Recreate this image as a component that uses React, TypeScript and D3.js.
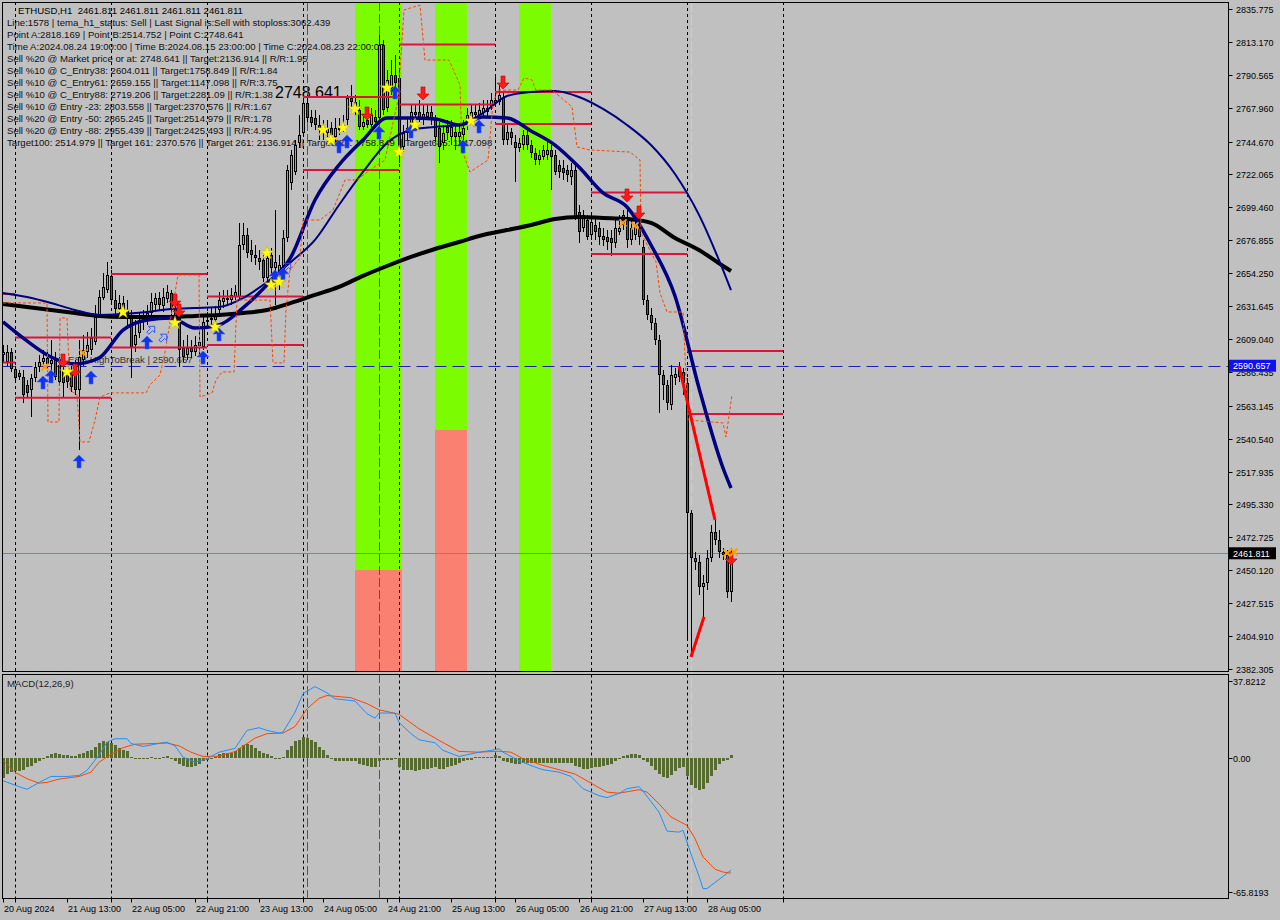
import React from "react";
import * as d3 from "d3";

// ---------------- DATA ----------------
// [open, high, low, close] per H1 bar, bar 0 = 20 Aug 2024 21:00
const candles: [number, number, number, number][] = [
  [2598.1, 2604.9, 2593.2, 2600.1], [2593.2, 2604.9, 2590.5, 2600.1], [2600.1, 2602.9, 2586.4, 2588.4], [2588.4, 2590.5, 2578.8, 2582.3],
  [2585.7, 2587.7, 2580.9, 2583.0], [2583.0, 2587.7, 2565.1, 2570.6], [2577.4, 2580.9, 2568.5, 2571.9], [2574.0, 2585.0, 2555.4, 2582.3],
  [2582.3, 2593.2, 2579.5, 2589.8], [2589.8, 2598.1, 2586.4, 2593.2], [2593.2, 2601.5, 2589.1, 2596.0], [2596.0, 2600.1, 2586.4, 2591.9],
  [2591.9, 2608.4, 2587.7, 2594.6], [2594.6, 2600.1, 2580.9, 2583.0], [2591.2, 2596.7, 2576.8, 2579.5], [2587.7, 2593.2, 2568.5, 2578.8],
  [2584.3, 2589.1, 2575.4, 2579.5], [2585.7, 2590.5, 2572.6, 2576.1], [2586.4, 2594.6, 2570.6, 2574.0], [2574.0, 2608.4, 2532.8, 2596.7],
  [2594.6, 2611.8, 2590.5, 2601.5], [2600.1, 2613.9, 2596.0, 2604.9], [2601.5, 2616.6, 2598.1, 2609.8], [2607.0, 2632.4, 2604.9, 2624.2],
  [2625.6, 2642.7, 2623.5, 2637.9], [2637.2, 2654.4, 2635.8, 2644.8], [2642.7, 2662.0, 2640.7, 2653.0], [2652.4, 2656.5, 2632.4, 2635.8],
  [2635.8, 2642.7, 2625.6, 2629.7], [2629.7, 2639.3, 2625.6, 2633.8], [2633.8, 2638.6, 2623.5, 2629.0], [2629.0, 2635.8, 2618.7, 2624.2],
  [2624.2, 2629.0, 2582.3, 2603.6], [2604.9, 2622.1, 2600.1, 2611.8], [2613.2, 2627.6, 2609.8, 2622.1], [2620.8, 2629.0, 2615.2, 2623.5],
  [2622.1, 2632.4, 2618.7, 2626.9], [2626.9, 2640.7, 2624.9, 2634.5], [2632.4, 2640.7, 2629.0, 2637.2], [2637.2, 2641.4, 2629.0, 2632.4],
  [2631.7, 2644.1, 2627.6, 2637.9], [2636.5, 2646.2, 2633.8, 2641.4], [2640.7, 2642.7, 2625.6, 2629.0], [2630.4, 2635.8, 2618.7, 2622.1],
  [2623.5, 2627.6, 2589.8, 2601.5], [2602.9, 2608.4, 2593.2, 2596.7], [2598.1, 2611.8, 2594.6, 2602.9], [2602.9, 2608.4, 2596.0, 2600.1],
  [2600.1, 2611.2, 2597.4, 2604.9], [2604.2, 2615.2, 2598.1, 2607.0], [2603.6, 2624.9, 2601.5, 2620.8], [2620.8, 2627.6, 2616.6, 2622.1],
  [2622.1, 2630.4, 2618.7, 2623.5], [2622.1, 2631.7, 2618.7, 2625.6], [2629.0, 2641.4, 2626.3, 2635.8], [2634.5, 2642.7, 2630.4, 2637.2],
  [2637.2, 2642.7, 2631.7, 2635.8], [2635.8, 2644.1, 2632.4, 2639.3], [2637.9, 2646.2, 2635.8, 2641.4], [2637.9, 2688.8, 2635.8, 2673.6],
  [2673.6, 2688.8, 2670.2, 2680.5], [2680.5, 2685.3, 2664.7, 2668.2], [2670.2, 2677.1, 2662.0, 2666.8], [2666.8, 2673.6, 2659.9, 2664.7],
  [2664.7, 2670.2, 2656.5, 2662.0], [2663.3, 2666.8, 2648.3, 2651.0], [2651.0, 2670.2, 2648.3, 2664.7], [2666.8, 2671.6, 2653.1, 2657.9],
  [2657.9, 2697.7, 2632.4, 2662.0], [2653.1, 2666.8, 2642.7, 2659.9], [2651.7, 2683.9, 2649.6, 2678.4], [2678.4, 2728.6, 2675.7, 2725.2],
  [2716.2, 2738.9, 2711.4, 2735.5], [2723.8, 2745.8, 2721.7, 2742.3], [2743.7, 2763.0, 2740.3, 2749.2], [2750.6, 2776.7, 2748.5, 2771.2],
  [2771.2, 2776.7, 2758.2, 2760.9], [2761.6, 2766.4, 2754.7, 2757.5], [2760.9, 2766.4, 2752.6, 2756.1], [2756.1, 2763.0, 2745.8, 2752.6],
  [2752.6, 2759.5, 2745.8, 2750.6], [2750.6, 2759.5, 2747.8, 2754.1], [2754.1, 2758.2, 2745.8, 2749.2], [2747.8, 2760.9, 2744.4, 2754.1],
  [2754.1, 2760.9, 2749.2, 2752.6], [2752.6, 2763.0, 2751.2, 2756.1], [2759.5, 2776.7, 2756.1, 2774.6], [2774.6, 2783.6, 2767.8, 2771.9],
  [2771.9, 2776.7, 2763.0, 2766.4], [2766.4, 2773.3, 2752.6, 2754.7], [2754.7, 2763.0, 2752.6, 2758.2], [2759.5, 2765.0, 2754.0, 2756.1],
  [2756.1, 2767.8, 2754.0, 2763.0], [2761.6, 2766.4, 2755.4, 2758.2], [2760.9, 2818.2, 2758.2, 2811.1], [2811.1, 2814.5, 2763.0, 2766.4],
  [2767.8, 2793.9, 2765.0, 2787.0], [2781.5, 2800.7, 2776.7, 2790.4], [2790.4, 2804.2, 2780.1, 2785.0], [2788.4, 2793.9, 2730.0, 2736.9],
  [2741.0, 2756.1, 2737.5, 2750.6], [2750.6, 2760.9, 2745.8, 2754.1], [2754.1, 2769.8, 2751.3, 2765.0], [2765.0, 2769.8, 2758.2, 2763.0],
  [2765.0, 2773.3, 2758.2, 2760.9], [2760.9, 2769.8, 2756.1, 2763.7], [2761.6, 2769.8, 2759.5, 2765.0], [2765.0, 2769.1, 2756.1, 2759.5],
  [2759.5, 2763.0, 2744.4, 2747.8], [2754.1, 2758.2, 2730.0, 2741.0], [2743.7, 2756.1, 2738.9, 2750.6], [2754.7, 2759.5, 2745.8, 2750.6],
  [2747.8, 2759.5, 2742.3, 2754.7], [2751.3, 2756.1, 2738.9, 2747.8], [2747.8, 2756.1, 2742.3, 2751.3], [2749.2, 2759.5, 2745.8, 2754.1],
  [2756.1, 2767.8, 2752.6, 2763.0], [2759.5, 2769.8, 2756.8, 2765.0], [2765.0, 2769.8, 2759.5, 2763.0], [2763.0, 2771.2, 2760.9, 2766.4],
  [2764.3, 2773.3, 2762.3, 2767.8], [2765.0, 2773.3, 2762.3, 2767.8], [2767.8, 2778.1, 2766.4, 2773.3], [2773.3, 2789.1, 2769.1, 2771.2],
  [2771.9, 2783.6, 2769.8, 2776.7], [2774.6, 2778.8, 2742.3, 2745.8], [2745.8, 2756.1, 2742.3, 2751.3], [2751.3, 2754.0, 2742.3, 2747.1],
  [2744.4, 2749.2, 2716.9, 2740.3], [2740.3, 2747.1, 2737.5, 2743.7], [2742.3, 2752.6, 2738.9, 2749.2], [2749.2, 2752.6, 2738.9, 2742.3],
  [2742.3, 2745.8, 2733.4, 2736.9], [2736.9, 2740.3, 2728.6, 2732.0], [2732.0, 2738.9, 2728.6, 2735.5], [2734.1, 2742.3, 2732.0, 2738.9],
  [2735.5, 2745.8, 2732.0, 2738.9], [2738.9, 2742.3, 2711.4, 2734.1], [2735.5, 2738.9, 2721.7, 2723.8], [2728.6, 2732.0, 2719.7, 2723.8],
  [2726.5, 2732.0, 2718.3, 2723.1], [2725.2, 2728.6, 2716.9, 2721.7], [2720.4, 2730.0, 2714.9, 2725.2], [2725.2, 2730.0, 2690.8, 2692.9],
  [2696.3, 2701.1, 2675.0, 2682.6], [2685.3, 2697.7, 2682.6, 2694.3], [2690.8, 2694.3, 2677.1, 2679.1], [2680.5, 2694.3, 2677.1, 2689.5],
  [2687.4, 2692.2, 2677.1, 2682.6], [2685.3, 2689.5, 2673.6, 2679.1], [2679.8, 2685.3, 2673.0, 2677.1], [2679.1, 2683.9, 2670.2, 2675.7],
  [2678.4, 2683.9, 2666.1, 2675.0], [2675.0, 2690.8, 2671.6, 2685.3], [2682.6, 2694.3, 2680.5, 2685.3], [2687.4, 2697.7, 2683.9, 2694.3],
  [2692.9, 2697.7, 2671.6, 2677.1], [2677.1, 2690.8, 2673.6, 2685.3], [2680.5, 2694.3, 2677.1, 2687.4], [2685.3, 2689.5, 2673.6, 2679.1],
  [2672.3, 2677.1, 2632.4, 2635.8], [2635.8, 2639.3, 2622.1, 2625.6], [2625.6, 2630.4, 2615.2, 2620.1], [2620.1, 2623.5, 2604.9, 2608.4],
  [2608.4, 2611.8, 2558.2, 2584.3], [2584.3, 2587.7, 2567.1, 2577.4], [2577.4, 2580.9, 2560.3, 2565.1], [2563.7, 2591.2, 2560.3, 2584.3],
  [2582.3, 2589.1, 2577.4, 2585.0], [2589.8, 2593.2, 2579.5, 2583.0], [2586.4, 2589.1, 2570.6, 2578.8], [2578.8, 2582.3, 2402.2, 2489.5],
  [2489.5, 2491.6, 2390.6, 2458.6], [2458.6, 2462.8, 2450.3, 2455.9], [2455.9, 2460.7, 2433.2, 2438.7], [2438.7, 2447.0, 2418.1, 2441.5],
  [2441.5, 2464.1, 2436.6, 2458.6], [2458.6, 2481.3, 2455.9, 2476.5], [2476.5, 2484.7, 2467.5, 2470.9], [2470.9, 2477.8, 2458.6, 2462.7],
  [2462.7, 2465.5, 2457.2, 2460.7], [2460.7, 2464.1, 2431.1, 2435.2], [2435.2, 2465.5, 2428.4, 2461.811],
];

const priceTicks = [2835.775, 2813.17, 2790.565, 2767.96, 2744.67, 2722.065, 2699.46, 2676.855, 2654.25, 2631.645, 2609.04,
  2586.435, 2563.145, 2540.54, 2517.935, 2495.33, 2472.725, 2450.12, 2427.515, 2404.91, 2382.305];
const macdTicks = [37.8212, 0, -65.8193];
const macdTickLabels = ["37.8212", "0.00", "-65.8193"];

const timeLabels = ["20 Aug 2024", "21 Aug 13:00", "22 Aug 05:00", "22 Aug 21:00", "23 Aug 13:00", "24 Aug 05:00",
  "24 Aug 21:00", "25 Aug 13:00", "26 Aug 05:00", "26 Aug 21:00", "27 Aug 13:00", "28 Aug 05:00"];
const timeLabelBars = [0, 16, 32, 48, 64, 80, 96, 112, 128, 144, 160, 176];
const daySeparatorBars = [3, 27, 51, 75, 99, 123, 147, 171, 195];
const magentaBars = [76, 94];
const lightBlueBars = [172];

const breakLevel = 2590.657;
const lastPrice = 2461.811;

// moving averages (sampled)
const maBars = [0, 6, 12, 18, 24, 30, 36, 42, 48, 54, 60, 66, 72, 78, 84, 90, 96, 102, 108, 114, 120, 126, 132, 138, 144, 150, 156, 162, 168, 174, 180, 182];
const maSlowBlack = [2633.1, 2631.0, 2629.0, 2626.9, 2624.9, 2624.2, 2624.2, 2624.2, 2624.9, 2625.6, 2626.9, 2629.0, 2633.8, 2639.3, 2644.8, 2652.4,
  2659.2, 2665.4, 2670.9, 2675.7, 2680.5, 2683.9, 2687.4, 2691.5, 2692.9, 2692.2, 2691.5, 2688.8, 2678.4, 2670.2, 2659.2, 2655.8];
const maFastNavy = [2620.8, 2607.7, 2596.7, 2591.9, 2596.0, 2615.2, 2622.1, 2623.5, 2616.6, 2618.7, 2630.4, 2646.2, 2665.4, 2704.5, 2728.6, 2745.8,
  2760.9, 2760.9, 2760.2, 2756.1, 2761.6, 2760.9, 2752.0, 2742.3, 2727.2, 2709.4, 2699.7, 2673.6, 2638.6, 2575.4, 2520.4, 2506.7];
const maMidNavy = [2640.7, 2637.9, 2633.8, 2629.0, 2625.6, 2626.3, 2627.6, 2629.7, 2630.4, 2631.0, 2637.2, 2648.2, 2662.0, 2677.1, 2701.1, 2723.8,
  2743.7, 2752.6, 2754.7, 2756.1, 2764.3, 2776.0, 2778.8, 2779.4, 2775.3, 2767.1, 2756.1, 2742.3, 2722.4, 2694.3, 2656.5, 2642.7];

// orange dashed trailing stop
const stopBars = [0, 11, 11.25, 14, 14.25, 16, 16.75, 18.5, 19.25, 21.5, 23, 24.25, 26.75, 35.75, 36.75, 39.25, 40.5, 43.75, 49, 49.25,
  52.25, 53.25, 54.75, 57.75, 58.5, 66.75, 67.5, 70.25, 70.75, 71.75, 74.25, 75, 79.25, 82.5, 85.5, 88.5, 91.75, 95.5, 98.75, 100.25,
  104.25, 105.5, 111.5, 114.25, 114.75, 116.75, 121.25, 122.5, 123.75, 128.75, 130.25, 132.25, 133.25, 137.25, 142.25, 143.5, 146.75, 156.75, 159.25, 159.5,
  163.25, 164.25, 166, 170, 171.25, 180, 180.75, 182.25];
const stopPrices = [2633.8, 2633.8, 2552.0, 2552.0, 2623.5, 2623.5, 2574.0, 2570.6, 2538.3, 2538.3, 2553.4, 2569.2, 2572.0, 2572.0, 2577.5, 2584.3, 2600.1, 2653.0, 2653.0, 2569.2,
  2572.0, 2580.9, 2586.4, 2586.4, 2635.8, 2635.8, 2592.6, 2592.6, 2629.0, 2656.5, 2664.7, 2690.8, 2690.8, 2697.7, 2718.3, 2718.3, 2725.2, 2732.0, 2773.3, 2835.1,
  2838.5, 2800.7, 2800.7, 2783.6, 2738.9, 2723.8, 2732.0, 2771.2, 2780.1, 2780.1, 2788.4, 2787.0, 2780.1, 2780.1, 2768.5, 2741.0, 2738.9, 2737.5, 2732.0, 2681.9,
  2662.0, 2640.7, 2627.6, 2627.6, 2553.4, 2551.4, 2541.7, 2570.6];

// shaded zones
const bandStart = [88, 108, 129];
const bandEnd = [99.75, 116, 137];
const bandSalmonTop: (number | null)[] = [2450.3, 2546.5, null];

// daily levels (crimson segments)
const levelStart = [0, 3, 27, 51, 75, 99, 123, 147, 171];
const levelEnd = [3, 27, 51, 75, 99, 123, 147, 171, 195];
const levelHigh = [2640.0, 2610.1, 2653.7, 2638.3, 2775.3, 2811.4, 2778.8, 2709.7, 2600.8];
const levelLow = [2592.9, 2568.7, 2603.2, 2604.9, 2725.2, 2770.2, 2756.8, 2667.5, 2557.5];

// red trend segments
const trendBars = [[169, 178], [172, 175.25]];
const trendPrices = [[2590.5, 2484.7], [2390.6, 2418.1]];

// signals
const upArrowBars = [10, 12, 19, 22, 36, 50, 54, 68, 70, 84, 86, 94, 98, 102, 115, 119];
const upArrowPrices = [2578.8, 2583.0, 2524.6, 2582.3, 2606.3, 2596.0, 2611.8, 2651.7, 2653.1, 2741.0, 2744.4, 2750.6, 2778.1, 2751.3, 2741.0, 2754.7];
const downArrowBars = [15, 18, 43, 44, 91, 105, 125, 156, 159, 182];
const downArrowPrices = [2594.6, 2587.7, 2635.8, 2629.0, 2764.3, 2778.1, 2785.6, 2708.0, 2696.3, 2458.6];
const starBars = [16, 30, 43, 53, 66, 67, 69, 80, 82, 85, 88, 96, 99, 103, 117];
const starPrices = [2586.4, 2627.6, 2620.1, 2617.3, 2668.1, 2646.2, 2648.2, 2752.6, 2745.8, 2754.0, 2767.1, 2781.5, 2737.5, 2756.1, 2758.8];
const crossBars = [10.5, 20, 155, 158, 181, 182.75];
const crossPrices = [2589.8, 2599.5, 2688.8, 2686.7, 2462.0, 2462.7];
const hollowBars = [37, 40, 71];
const hollowPrices = [2615.2, 2609.8, 2658.5];

// MACD
const macdHist = [
  -10.0, -7.6, -7.0, -6.1, -6.1, -5.6, -4.5, -3.7, -2.5, -1.2,
  -0.2, 1.1, 2.1, 2.4, 2.1, 1.7, 1.5, 1.1, 1.0, 2.1,
  2.6, 3.3, 4.1, 5.6, 7.2, 8.5, 8.0, 7.2, 6.6, 5.0,
  4.0, 3.3, 0.3, 0.0, -0.5, -0.3, 0.0, 0.3, 0.0, 0.2,
  0.7, 1.0, 0.0, -1.3, -2.9, -3.8, -4.2, -4.6, -3.9, -2.9,
  -1.6, -0.7, 0.0, 0.7, 2.0, 2.3, 2.6, 2.6, 3.6, 5.2,
  6.5, 6.9, 6.2, 4.9, 3.6, 2.3, 2.0, 1.0, -0.5, 0.0,
  0.7, 4.0, 6.0, 8.2, 8.9, 10.5, 9.8, 9.0, 7.7, 5.6,
  4.0, 1.7, 0.0, -1.3, -1.6, -1.6, -1.3, -1.3, -1.6, -2.9,
  -3.6, -3.9, -4.6, -4.6, -1.3, -1.0, -1.0, -0.7, -0.5, -4.6,
  -5.9, -5.6, -5.9, -6.2, -5.7, -5.4, -5.1, -4.9, -4.6, -5.1,
  -5.1, -4.6, -3.8, -3.3, -2.6, -1.6, -1.0, -0.7, 0.3, 0.5,
  0.5, 0.5, 0.5, 1.5, 1.1, -1.3, -2.0, -2.6, -2.9, -2.9,
  -2.6, -2.6, -2.3, -2.3, -2.4, -2.3, -2.2, -2.3, -2.4, -2.3,
  -2.2, -2.3, -2.3, -3.8, -4.6, -5.4, -5.4, -4.9, -4.6, -4.2,
  -3.8, -3.3, -2.9, -1.6, -0.2, 1.1, 1.6, 2.0, 2.0, 1.5,
  -1.0, -2.1, -3.8, -5.9, -7.8, -9.2, -10.0, -8.2, -6.2, -4.9,
  -4.2, -8.7, -13.1, -14.7, -15.7, -15.2, -12.4, -8.7, -5.9, -2.9,
  -1.3, -1.0, 1.6,
];
const macdMainBars = [0, 4, 6, 9, 12, 16, 19, 21, 24, 26, 28, 31, 32, 35, 39, 41, 43, 45, 48, 51, 54, 58, 61, 64, 66, 69, 70, 73, 75, 78,
  81, 83, 88, 91, 93, 94, 98, 99, 102, 104, 108, 110, 114, 119, 122, 124, 125, 129, 133, 135, 139, 142, 145, 149, 151, 154, 156, 159, 160, 164,
  166, 169, 170, 172, 174, 175, 176, 179, 181, 182];
const macdMain = [-11.1, -14.0, -15.3, -12.0, -9.0, -9.0, -8.5, -6.0, 1.5, 7.8, 9.5, 9.5, 7.2, 5.7, 7.2, 7.8, 6.0, 0.5, -2.0, -0.3,
  2.9, 4.8, 13.6, 14.9, 13.6, 12.3, 12.8, 22.5, 31.6, 35.1, 32.0, 29.1, 28.0, 21.8, 19.6, 22.1, 22.1, 17.5, 12.0, 9.0,
  7.5, 3.8, 0.8, 2.9, 3.8, 4.6, 2.9, -1.3, -4.4, -5.7, -6.9, -9.0, -15.0, -18.4, -19.4, -17.3, -15.0, -14.0, -16.2, -26.5,
  -35.8, -36.3, -35.4, -47.0, -58.0, -64.0, -64.0, -59.5, -56.5, -55.0];
const macdSignalBars = [0, 3, 6, 9, 11, 14, 19, 22, 24, 27, 30, 33, 41, 44, 47, 50, 54, 58, 63, 66, 70, 73, 76, 79, 81, 87, 91, 94, 99, 104,
  109, 114, 119, 124, 127, 130, 135, 143, 147, 151, 154, 159, 161, 164, 167, 171, 173, 175, 178, 180, 182];
const macdSignal = [-1.1, -7.0, -10.1, -12.3, -11.9, -10.3, -9.0, -6.9, -2.0, 1.8, 5.1, 6.8, 7.4, 6.0, 2.9, 0.8, 0.9, 3.2, 9.8, 12.0,
  12.3, 15.5, 24.2, 29.3, 30.7, 29.6, 26.7, 23.7, 21.5, 14.4, 8.7, 3.3, 2.9, 3.4, 2.9, -0.3, -3.6, -7.8, -12.3, -16.7,
  -17.2, -15.5, -16.7, -22.4, -28.9, -33.0, -39.5, -48.5, -54.5, -55.9, -56.4];

const infoLines = [
  "Line:1578 | tema_h1_status: Sell | Last Signal is:Sell with stoploss:3062.439",
  "Point A:2818.169 | Point B:2514.752 | Point C:2748.641",
  "Time A:2024.08.24 19:00:00 | Time B:2024.08.15 23:00:00 | Time C:2024.08.23 22:00:00",
  "Sell %20 @ Market price or at: 2748.641 || Target:2136.914 || R/R:1.95",
  "Sell %10 @ C_Entry38: 2604.011 || Target:1758.849 || R/R:1.84",
  "Sell %10 @ C_Entry61: 2659.155 || Target:1147.098 || R/R:3.75",
  "Sell %10 @ C_Entry88: 2719.206 || Target:2281.09 || R/R:1.38",
  "Sell %10 @ Entry -23: 2803.558 || Target:2370.576 || R/R:1.67",
  "Sell %20 @ Entry -50: 2865.245 || Target:2514.979 || R/R:1.78",
  "Sell %20 @ Entry -88: 2955.439 || Target:2425.493 || R/R:4.95",
  "Target100: 2514.979 || Target 161: 2370.576 || Target 261: 2136.914 || Target423: 1758.849 || Target685: 1147.098",
];
const titleLine = "ETHUSD,H1  2461.811 2461.811 2461.811 2461.811";

// ---------------- CHART ----------------
const FONT = "'Liberation Sans', Arial, sans-serif";
const MAIN_TOP = 2, MAIN_BOT = 671.5, MACD_TOP = 674.5, MACD_BOT = 898.5, RIGHT = 1228.5, LEFT = 2.5;

const x = d3.scaleLinear().domain([0, 182]).range([3, 731]);
const y = d3.scaleLinear().domain([2382.305, 2835.775]).range([669, 9]);
const ym = d3.scaleLinear().domain([-65.8193, 37.8212]).range([892.3, 681]);

const upArrow = "M0,-7 L6,-1 L2,-1 L2,6 L-2,6 L-2,-1 L-6,-1 Z";
const downArrow = "M0,7 L6,1 L2,1 L2,-6 L-2,-6 L-2,1 L-6,1 Z";
const starPath = d3.symbol().type(d3.symbolStar).size(58)() || "";

export default function App() {
  const maLine = (vals: number[]) =>
    d3.line<number>().x((_, i) => x(maBars[i])).y((v) => y(v)).curve(d3.curveMonotoneX)(vals) || "";
  const stopLine = d3.line<number>().x((_, i) => x(stopBars[i])).y((v) => y(v))(stopPrices) || "";
  const mainLine = d3.line<number>().x((_, i) => x(macdMainBars[i])).y((v) => ym(v))(macdMain) || "";
  const sigLine = d3.line<number>().x((_, i) => x(macdSignalBars[i])).y((v) => ym(v))(macdSignal) || "";

  return (
    <>
      <style>{"body{margin:0;} svg{display:block;}"}</style>
      <svg width={1280} height={920} style={{ fontFamily: FONT }}>
        <rect x={0} y={0} width={1280} height={920} fill="#C0C0C0" />

        {/* zones */}
        {bandStart.map((s, k) => {
          const x0 = x(s), x1 = x(bandEnd[k]);
          const top = bandSalmonTop[k];
          const split = top === null ? MAIN_BOT : y(top);
          return (
            <g key={"band" + k}>
              <rect x={x0} y={MAIN_TOP + 1} width={x1 - x0} height={split - MAIN_TOP - 1} fill="#7CFC00" />
              {top !== null && <rect x={x0} y={split} width={x1 - x0} height={MAIN_BOT - split} fill="#FA8072" />}
            </g>
          );
        })}

        {/* info text */}
        <text x={18} y={14} fontSize={9.6} fill="#000" style={{ whiteSpace: "pre" }}>{titleLine}</text>
        {infoLines.map((t, k) => (
          <text key={"info" + k} x={7} y={26 + k * 12} fontSize={9.6} fill="#111" style={{ whiteSpace: "pre" }}>{t}</text>
        ))}
        <text x={x(68)} y={y(2774.6)} fontSize={16} fill="#000">2748.641</text>
        <text x={x(16.25)} y={y(breakLevel) - 2.5} fontSize={9.6} fill="#333">ESB HighToBreak | 2590.657</text>

        {/* separators */}
        {daySeparatorBars.map((b) => (
          <g key={"sep" + b}>
            <line x1={x(b) + 0.5} x2={x(b) + 0.5} y1={MAIN_TOP} y2={MAIN_BOT} stroke="#000" strokeDasharray="3,3" />
            <line x1={x(b) + 0.5} x2={x(b) + 0.5} y1={MACD_TOP} y2={MACD_BOT} stroke="#000" strokeDasharray="3,3" />
          </g>
        ))}
        {magentaBars.map((b) => (
          <line key={"mg" + b} x1={x(b) + 0.5} x2={x(b) + 0.5} y1={MAIN_TOP} y2={MACD_BOT} stroke="#C71585" strokeDasharray="9,3" />
        ))}
        {lightBlueBars.map((b) => (
          <line key={"lb" + b} x1={x(b) + 0.5} x2={x(b) + 0.5} y1={MAIN_TOP} y2={MACD_BOT} stroke="#ADD8E6" strokeDasharray="10,3" />
        ))}

        {/* horizontal reference lines */}
        <line x1={LEFT} x2={RIGHT} y1={Math.round(y(breakLevel)) + 0.5} y2={Math.round(y(breakLevel)) + 0.5} stroke="#2020B0" strokeDasharray="12,6" />
        <line x1={LEFT} x2={RIGHT} y1={Math.round(y(lastPrice)) + 0.5} y2={Math.round(y(lastPrice)) + 0.5} stroke="#778899" />

        {/* candles */}
        <g shapeRendering="crispEdges">
          {candles.map(([o, h, l, c], i) => {
            const cx = Math.round(x(i));
            const top = Math.round(y(Math.max(o, c)));
            const bot = Math.round(y(Math.min(o, c)));
            const hy = Math.round(y(h)), ly = Math.round(y(l));
            const bull = c >= o;
            return (
              <g key={"c" + i}>
                <rect x={cx} y={hy} width={1} height={Math.max(1, ly - hy)} fill="#000" />
                <rect x={cx - 1} y={top} width={3} height={Math.max(1, bot - top)} fill="#000" />
                {bot - top > 2 && <rect x={cx} y={top + 1} width={1} height={bot - top - 2} fill={bull ? "#3CDB86" : "#D21E44"} />}
              </g>
            );
          })}
        </g>

        {/* daily levels */}
        {levelStart.map((s, k) => (
          <g key={"lvl" + k}>
            <line x1={x(s)} x2={x(levelEnd[k])} y1={y(levelHigh[k])} y2={y(levelHigh[k])} stroke="#DC143C" strokeWidth={2} />
            <line x1={x(s)} x2={x(levelEnd[k])} y1={y(levelLow[k])} y2={y(levelLow[k])} stroke="#DC143C" strokeWidth={2} />
          </g>
        ))}

        {/* moving averages */}
        <path d={maLine(maSlowBlack)} fill="none" stroke="#000" strokeWidth={4} />
        <path d={maLine(maMidNavy)} fill="none" stroke="#000080" strokeWidth={2} />
        <path d={maLine(maFastNavy)} fill="none" stroke="#000080" strokeWidth={3.5} />

        {/* trailing stop */}
        <path d={stopLine} fill="none" stroke="#FF4500" strokeWidth={1} strokeDasharray="3,2" />

        {/* trend segments */}
        {trendBars.map((b, k) => (
          <line key={"tr" + k} x1={x(b[0])} x2={x(b[1])} y1={y(trendPrices[k][0])} y2={y(trendPrices[k][1])} stroke="#FF0000" strokeWidth={3} />
        ))}

        {/* signals */}
        {hollowBars.map((b, k) => (
          <path key={"ho" + k} d={upArrow} transform={`translate(${x(b)},${y(hollowPrices[k])}) rotate(45) scale(0.75)`} fill="none" stroke="#3050FF" strokeWidth={1.2} />
        ))}
        {upArrowBars.map((b, k) => (
          <path key={"up" + k} d={upArrow} transform={`translate(${x(b)},${y(upArrowPrices[k])})`} fill="#1232F0" stroke="#3a5cff" strokeWidth={0.6} />
        ))}
        {downArrowBars.map((b, k) => (
          <path key={"dn" + k} d={downArrow} transform={`translate(${x(b)},${y(downArrowPrices[k])})`} fill="#FF1A1A" stroke="#C00000" strokeWidth={0.6} />
        ))}
        {starBars.map((b, k) => (
          <path key={"st" + k} d={starPath} transform={`translate(${x(b)},${y(starPrices[k])})`} fill="#FFFF00" stroke="#C8A000" strokeWidth={0.4} />
        ))}
        {crossBars.map((b, k) => {
          const cx = x(b), cy = y(crossPrices[k]);
          return (
            <g key={"cr" + k} stroke="#FFA000" strokeWidth={1.8}>
              <line x1={cx - 3.5} x2={cx + 3.5} y1={cy - 3.5} y2={cy + 3.5} />
              <line x1={cx - 3.5} x2={cx + 3.5} y1={cy + 3.5} y2={cy - 3.5} />
            </g>
          );
        })}

        {/* MACD */}
        <g shapeRendering="crispEdges">
          {macdHist.map((v, i) => {
            const cx = Math.round(x(i));
            const y0 = Math.round(ym(0)), y1 = Math.round(ym(v));
            return <rect key={"h" + i} x={cx - 1} y={Math.min(y0, y1)} width={3} height={Math.max(1, Math.abs(y1 - y0))} fill="#556B2F" />;
          })}
        </g>
        <path d={sigLine} fill="none" stroke="#FF4500" strokeWidth={1} />
        <path d={mainLine} fill="none" stroke="#1E90FF" strokeWidth={1} />
        <text x={7} y={687} fontSize={9.6} fill="#222">MACD(12,26,9)</text>

        {/* frames */}
        <rect x={LEFT} y={MAIN_TOP + 0.5} width={RIGHT - LEFT} height={MAIN_BOT - MAIN_TOP - 0.5} fill="none" stroke="#000" />
        <rect x={LEFT} y={MACD_TOP} width={RIGHT - LEFT} height={MACD_BOT - MACD_TOP} fill="none" stroke="#000" />

        {/* price axis */}
        {priceTicks.map((p) => {
          const ty = Math.round(y(p)) + 0.5;
          return (
            <g key={"pt" + p}>
              <line x1={RIGHT} x2={RIGHT + 4} y1={ty} y2={ty} stroke="#000" />
              <text x={1236} y={ty + 3.5} fontSize={9} fill="#000">{p.toFixed(3)}</text>
            </g>
          );
        })}
        <rect x={1229} y={y(breakLevel) - 6} width={47} height={12} fill="#1010F0" />
        <text x={1233} y={y(breakLevel) + 3.5} fontSize={9} fill="#fff">{breakLevel.toFixed(3)}</text>
        <rect x={1229} y={y(lastPrice) - 6} width={47} height={12} fill="#000" />
        <text x={1233} y={y(lastPrice) + 3.5} fontSize={9} fill="#fff">{lastPrice.toFixed(3)}</text>

        {/* macd axis */}
        {macdTicks.map((v, k) => {
          const ty = Math.round(ym(v)) + 0.5;
          return (
            <g key={"mt" + k}>
              <line x1={RIGHT} x2={RIGHT + 4} y1={ty} y2={ty} stroke="#000" />
              <text x={1233} y={ty + 3.5} fontSize={9} fill="#000">{macdTickLabels[k]}</text>
            </g>
          );
        })}

        {/* time axis */}
        {daySeparatorBars.map((b) => (
          <line key={"dt" + b} x1={x(b) + 0.5} x2={x(b) + 0.5} y1={MACD_BOT} y2={MACD_BOT + 4} stroke="#000" />
        ))}
        {timeLabelBars.map((b, k) => (
          <g key={"tl" + k}>
            <line x1={x(b) + 0.5} x2={x(b) + 0.5} y1={MACD_BOT} y2={MACD_BOT + 4} stroke="#000" />
            <text x={x(b) + 1} y={912} fontSize={9} fill="#000">{timeLabels[k]}</text>
          </g>
        ))}
      </svg>
    </>
  );
}
